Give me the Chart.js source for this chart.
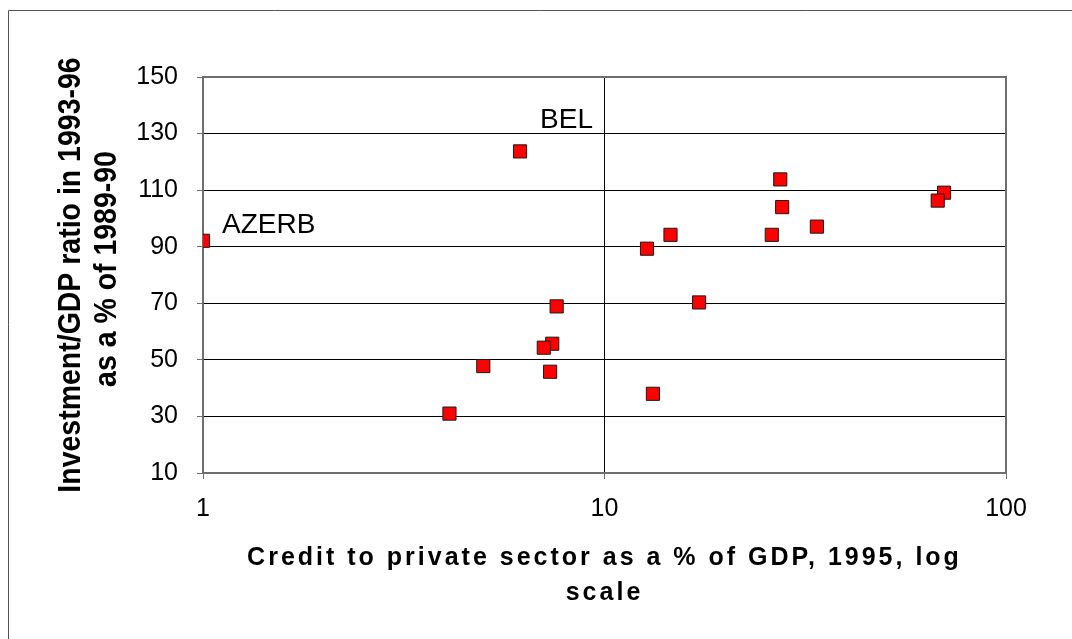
<!DOCTYPE html>
<html>
<head>
<meta charset="utf-8">
<title>Credit and investment</title>
<script src="https://cdn.jsdelivr.net/npm/chart.js@4/dist/chart.umd.min.js"></script>
<style>
  html, body { margin: 0; padding: 0; background: #fff; }
  #wrap { width: 1072px; height: 639px; position: relative; }
</style>
</head>
<body>
<div id="wrap"><canvas id="creditChart"></canvas></div>
<script>
// credit to private sector (% of GDP, 1995) and investment/GDP ratio (1993-96 vs 1989-90)
const credit = [1.0, 6.16, 7.6, 7.41, 7.06, 7.32, 4.99, 4.11, 27.4, 70.1, 67.6, 27.7, 33.8, 26.1, 14.6, 12.76, 17.2, 13.2];
const investment = [92.1, 123.7, 68.9, 55.7, 54.3, 45.8, 47.8, 31.0, 113.8, 109.1, 106.3, 104.0, 97.1, 94.2, 94.2, 89.3, 70.3, 38.0];

const xTicks = [1, 10, 100];
const yTicks = [10, 30, 50, 70, 90, 110, 130, 150];

// country notes, placed in data units (left edge / baseline of the text)
const noteText = ['AZERB', 'BEL'];
const noteX = [1.115, 6.91];
const noteY = [95.0, 131.8];

const xTitle = ['Credit to private sector as a % of GDP, 1995, log', 'scale'];
const yTitle = ['Investment/GDP ratio in 1993-96', 'as a % of 1989-90'];

const points = credit.map((c, i) => ({ x: c, y: investment[i] }));

const decor = {
  id: 'decor',
  beforeDraw(chart) {
    const ctx = chart.ctx;
    ctx.save();
    ctx.fillStyle = '#fff';
    ctx.fillRect(0, 0, chart.width, chart.height);
    // outer frame (top and left edges only fall inside the canvas)
    ctx.strokeStyle = '#555';
    ctx.lineWidth = 1;
    ctx.beginPath();
    ctx.moveTo(8.5, chart.height);
    ctx.lineTo(8.5, 10.5);
    ctx.lineTo(chart.width, 10.5);
    ctx.stroke();
    ctx.restore();
  },
  beforeDatasetsDraw(chart) {
    const { ctx, chartArea: a } = chart;
    ctx.save();
    ctx.strokeStyle = '#6e6e6e';
    ctx.lineWidth = 2;
    ctx.strokeRect(a.left, a.top, a.right - a.left, a.bottom - a.top);
    ctx.restore();
  },
  afterDraw(chart) {
    const { ctx, chartArea: a, scales } = chart;
    ctx.save();
    ctx.fillStyle = '#000';

    // point notes
    ctx.font = '28px "Liberation Sans", Arial, sans-serif';
    ctx.textAlign = 'left';
    ctx.textBaseline = 'alphabetic';
    noteText.forEach((t, i) => {
      ctx.fillText(t, scales.x.getPixelForValue(noteX[i]), scales.y.getPixelForValue(noteY[i]));
    });

    // x axis title
    const cx = (a.left + a.right) / 2;
    ctx.font = 'bold 25px "Liberation Sans", Arial, sans-serif';
    ctx.textAlign = 'center';
    ctx.letterSpacing = '3px';
    ctx.fillText(xTitle[0], cx, 565);
    ctx.fillText(xTitle[1], cx, 600);
    ctx.letterSpacing = '0px';

    // y axis title, rotated and a little condensed
    const cy = (a.top + a.bottom) / 2;
    ctx.font = 'bold 32px "Liberation Sans", Arial, sans-serif';
    ctx.translate(0, cy);
    ctx.rotate(-Math.PI / 2);
    ctx.scale(0.89, 1);
    ctx.fillText(yTitle[0], 0, 80);
    ctx.fillText(yTitle[1], 6 / 0.89, 116);
    ctx.restore();
  }
};

new Chart(document.getElementById('creditChart'), {
  type: 'scatter',
  data: {
    datasets: [{
      data: points,
      pointStyle: 'rect',
      pointRadius: 9.3,
      pointHoverRadius: 9.3,
      backgroundColor: '#ff0000',
      borderColor: '#1a1a1a',
      borderWidth: 1
    }]
  },
  options: {
    responsive: true,
    maintainAspectRatio: false,
    animation: false,
    layout: { padding: { top: 77, right: 66, bottom: 0, left: 0 } },
    plugins: {
      legend: { display: false },
      tooltip: { enabled: false }
    },
    scales: {
      x: {
        type: 'logarithmic',
        min: 1,
        max: 100,
        afterBuildTicks: scale => { scale.ticks = xTicks.map(v => ({ value: v })); },
        afterFit: scale => { scale.height = 166; },
        ticks: {
          color: '#000',
          font: { family: '"Liberation Sans", Arial, sans-serif', size: 25 },
          padding: 15,
          maxRotation: 0,
          autoSkip: false,
          callback: v => String(v)
        },
        grid: { color: '#000', lineWidth: 1, tickColor: '#6e6e6e', tickLength: 6 },
        border: { display: false }
      },
      y: {
        min: 10,
        max: 150,
        afterBuildTicks: scale => { scale.ticks = yTicks.map(v => ({ value: v })); },
        afterFit: scale => { scale.width = 203; },
        ticks: {
          color: '#000',
          font: { family: '"Liberation Sans", Arial, sans-serif', size: 25 },
          padding: 19
        },
        grid: { color: '#000', lineWidth: 1, tickColor: '#6e6e6e', tickLength: 6 },
        border: { display: false }
      }
    }
  },
  plugins: [decor]
});
</script>
</body>
</html>
